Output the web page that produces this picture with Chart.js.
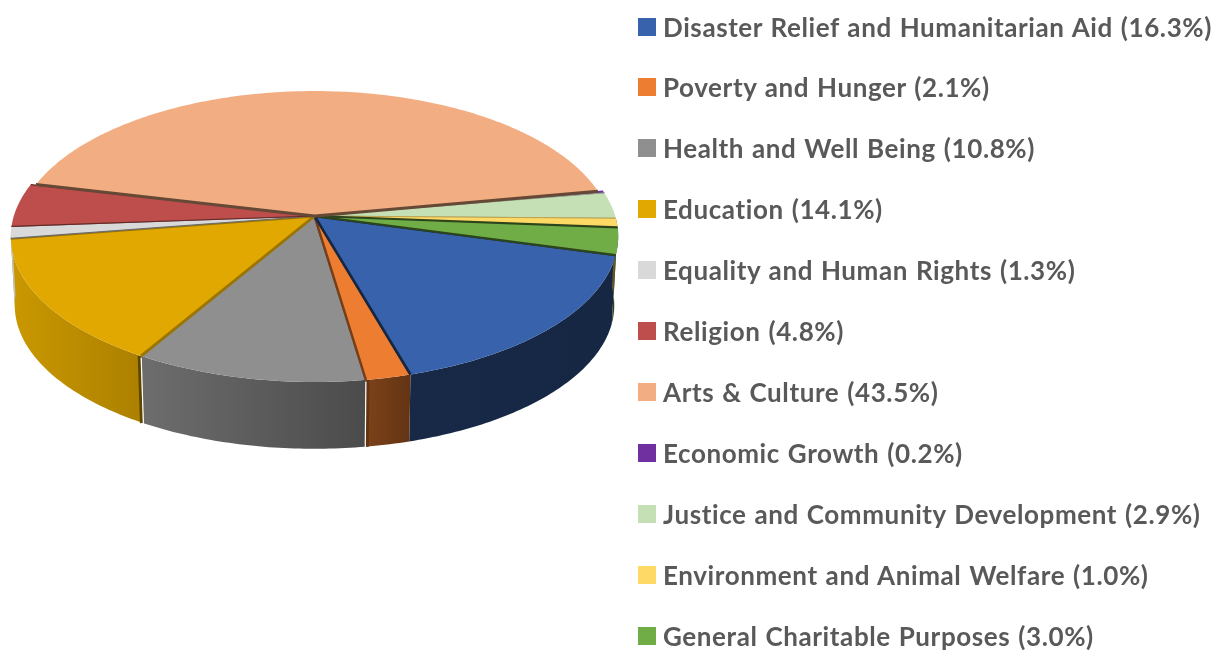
<!DOCTYPE html>
<html>
<head>
<meta charset="utf-8">
<title>Giving by cause</title>
<script src="https://cdn.jsdelivr.net/npm/chart.js@4"></script>
<style>
  html, body { margin: 0; padding: 0; background: #fff; overflow: hidden; }
  #wrap { position: relative; width: 1215px; height: 650px; filter: blur(0.45px); }
  #myChart { position: absolute; left: 0; top: 0; }
  #legend { position: absolute; left: 638px; top: 0; margin: 0; padding: 0; list-style: none; }
  #legend li {
    position: absolute; left: 0; white-space: nowrap; height: 30px;
    font: 700 26px/30px Lato, sans-serif; letter-spacing: 0.6px; word-spacing: 1px; color: #595959;
  }
  #legend i { position: absolute; left: 0; top: 6px; width: 18px; height: 18px; }
  #legend span { position: absolute; left: 25px; top: 0; }
</style>
</head>
<body>
<div id="wrap">
  <canvas id="myChart" width="1215" height="650"></canvas>
  <ul id="legend"></ul>
</div>
<script>
const categories = ['Disaster Relief and Humanitarian Aid', 'Poverty and Hunger', 'Health and Well Being', 'Education',
  'Equality and Human Rights', 'Religion', 'Arts & Culture', 'Economic Growth',
  'Justice and Community Development', 'Environment and Animal Welfare', 'General Charitable Purposes'];
const shares = [16.3, 2.1, 10.8, 14.1, 1.3, 4.8, 43.5, 0.2, 2.9, 1.0, 3.0];
const colors = ['#3862ab', '#ed7d31', '#8f8f8f', '#e0a800', '#d9d9d9', '#bd4e4c', '#f2ae82', '#7030a0', '#c5e0b4', '#ffd966', '#70ad47'];

// chart.js has no 3d pie, so the arcs it lays out are redrawn tilted, with a wall under them
const stretchX = 1.392, tiltY = 0.66, perspective = -0.141;
const wallDrop = 69, wallScale = 0.987;
const topOrder = [2, 1, 0, 3, 4, 5, 7, 8, 9, 10, 6];
const edgeWidths = [2.6, 2.4, 2, 2.8, 1.2, 1.2, 3, 1.6, 1, 1, 2.2];
const edgeShades = [0.4, 0.5, 0.55, 0.7, 0.5, 0.55, 0.42, 1, 0.75, 0.75, 0.4];
const wallLight = [[15, 0.9], [150, 0.76], [366, 0.53], [410, 0.42], [615, 0.4]];
// arts slice sits a little inside the others on the left and right
const insetX = { 6: 0.982 };
// front wall splits: slice whose end angle it is, slice that shows its side, offset in px
const wallSplits = [[1, 1, 2], [2, 3, -2]];

function shade(hex, f) {
  const n = parseInt(hex.slice(1), 16);
  return `rgb(${(n >> 16) * f | 0},${((n >> 8) & 255) * f | 0},${(n & 255) * f | 0})`;
}

function project(arc, angle, low, inset) {
  const u = Math.cos(angle), v = Math.sin(angle);
  const s = (low ? wallScale : 1) * arc.outerRadius / (1 + perspective * v);
  return {
    x: arc.x + stretchX * s * u * (inset || 1),
    y: arc.y + (low ? wallDrop : 0) + tiltY * s * v
  };
}

// adds the rim between two angles to the current path
function traceRim(ctx, arc, from, to, low, inset) {
  const steps = Math.max(2, Math.ceil(Math.abs(to - from) / 0.015));
  for (let i = 0; i <= steps; i++) {
    const p = project(arc, from + (to - from) * i / steps, low, inset);
    ctx.lineTo(p.x, p.y);
  }
}

const pie3d = {
  id: 'pie3d',
  beforeDatasetsDraw(chart) {
    const ctx = chart.ctx;
    const arcs = chart.getDatasetMeta(0).data;
    ctx.save();

    arcs.forEach((arc, i) => {
      // slices on the far side have no visible wall
      if (Math.sin((arc.startAngle + arc.endAngle) / 2) < 0) return;
      const g = ctx.createLinearGradient(15, 0, 615, 0);
      wallLight.forEach(([x, f]) => g.addColorStop((x - 15) / 600, shade(colors[i], f)));
      ctx.beginPath();
      traceRim(ctx, arc, arc.startAngle, arc.endAngle, false);
      traceRim(ctx, arc, arc.endAngle, arc.startAngle, true);
      ctx.closePath();
      ctx.fillStyle = g;
      ctx.fill();
    });

    wallSplits.forEach(([i, side, dx]) => {
      const arc = arcs[i];
      const a = project(arc, arc.endAngle, false), b = project(arc, arc.endAngle, true);
      ctx.strokeStyle = shade(colors[side], 0.42);
      ctx.lineWidth = 3;
      ctx.beginPath(); ctx.moveTo(a.x + dx, a.y); ctx.lineTo(b.x + dx, b.y); ctx.stroke();
      ctx.strokeStyle = '#fff';
      ctx.lineWidth = 1.2;
      ctx.beginPath(); ctx.moveTo(a.x, a.y + 2); ctx.lineTo(b.x, b.y + 2); ctx.stroke();
    });

    topOrder.forEach(i => {
      const arc = arcs[i];
      const inset = insetX[i];
      ctx.beginPath();
      ctx.moveTo(arc.x, arc.y);
      traceRim(ctx, arc, arc.startAngle, arc.endAngle, false, inset);
      ctx.closePath();
      ctx.fillStyle = colors[i];
      ctx.fill();

      const a = project(arc, arc.startAngle, false, inset), b = project(arc, arc.endAngle, false, inset);
      ctx.strokeStyle = shade(colors[i], edgeShades[i]);
      ctx.lineWidth = edgeWidths[i];
      ctx.beginPath();
      ctx.moveTo(a.x, a.y); ctx.lineTo(arc.x, arc.y); ctx.lineTo(b.x, b.y);
      ctx.stroke();
    });

    ctx.restore();
    return false;
  }
};

new Chart(document.getElementById('myChart'), {
  type: 'pie',
  data: {
    labels: categories,
    datasets: [{ data: shares, backgroundColor: colors, borderWidth: 0 }]
  },
  options: {
    responsive: false,
    animation: false,
    rotation: 105.3,
    layout: { padding: { right: 586, bottom: 218 } },
    plugins: { legend: { display: false }, tooltip: { enabled: false } }
  },
  plugins: [pie3d]
});

const legend = document.getElementById('legend');
categories.forEach((name, i) => {
  const li = document.createElement('li');
  li.style.top = (11.5 + i * 60.9) + 'px';
  li.innerHTML = `<i style="background:${colors[i]}"></i><span></span>`;
  li.querySelector('span').textContent = `${name} (${shares[i].toFixed(1)}%)`;
  legend.appendChild(li);
});
</script>
</body>
</html>
